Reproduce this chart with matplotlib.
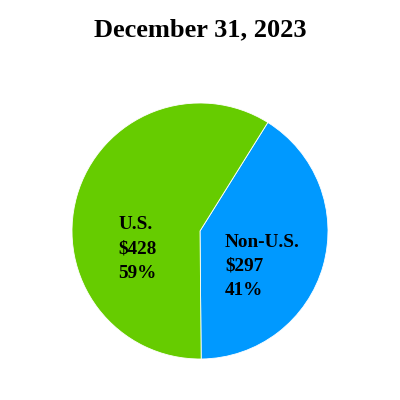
import matplotlib.pyplot as plt

labels = ['Non-U.S.', 'U.S.']
amounts = [297, 428]
pcts = [41, 59]
colors = ['#0099FF', '#66CC00']

plt.rcParams['font.family'] = ['Liberation Serif', 'DejaVu Serif']

fig = plt.figure(figsize=(4, 4), dpi=100)
ax = fig.add_axes([72 / 400, 41 / 400, 256 / 400, 256 / 400])
ax.pie(amounts, colors=colors, startangle=58, counterclock=False,
       wedgeprops=dict(edgecolor='white', linewidth=0.6))
ax.set_xlim(-1, 1)
ax.set_ylim(-1, 1)
ax.set_aspect('equal')

# label blocks inside the slices
pos = {'Non-U.S.': (0.195, -0.275), 'U.S.': (-0.64, -0.14)}
for lab, amt, p in zip(labels, amounts, pcts):
    x, y = pos[lab]
    ax.text(x, y, f'{lab}\n${amt}\n{p}%', ha='left', va='center',
            fontsize=13.8, fontweight='bold', linespacing=1.55)

fig.text(0.5, 1 - 30 / 400, 'December 31, 2023', ha='center', va='center',
         fontsize=19, fontweight='bold')

fig.savefig('out.png', dpi=100)
